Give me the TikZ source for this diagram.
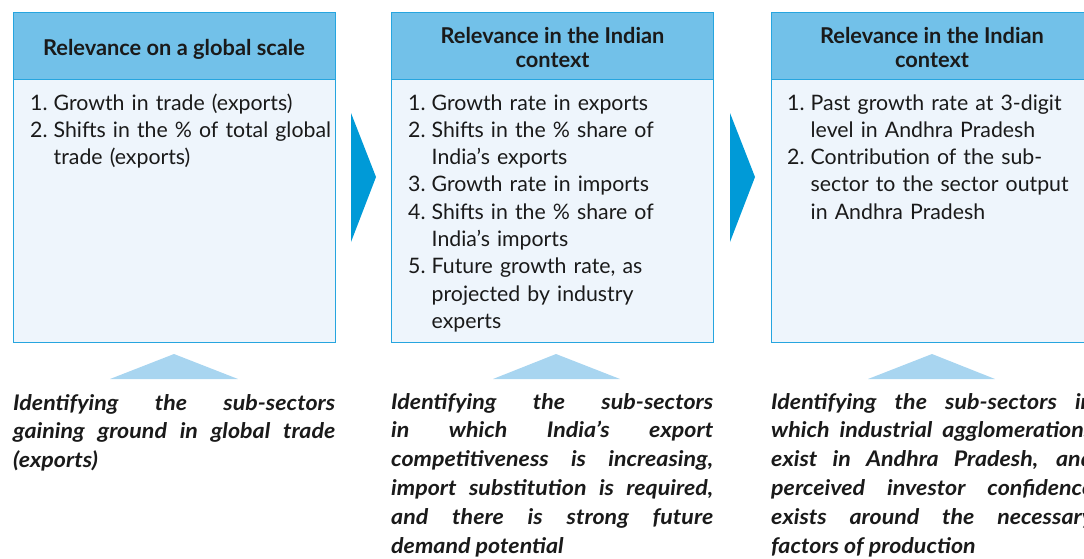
\documentclass[tikz,border=0pt]{standalone}
\usepackage{fontspec}
\setmainfont{Lato}
\newfontfamily\bottomfont[FakeStretch=1.08]{Lato}
\definecolor{hdrfill}{HTML}{72C1E9}
\definecolor{bodyfill}{HTML}{EEF5FC}
\definecolor{boxline}{HTML}{26A5DF}
\definecolor{arrowblue}{HTML}{009AD7}
\definecolor{lighttri}{HTML}{A8D5F0}
\definecolor{ink}{HTML}{1A1A1A}
\newcommand\listitem[2]{\hangindent=23.5pt\hangafter=1\noindent\makebox[23.5pt][l]{#1}#2\par}
\tikzset{
  bodybox/.style={draw=boxline, line width=1.3pt, fill=bodyfill, minimum width=322, minimum height=330, anchor=north west, inner sep=0pt},
  hdrbox/.style={draw=boxline, line width=1.3pt, fill=hdrfill, minimum width=322, minimum height=67, anchor=north west, inner sep=0pt},
  hdrtext/.style={anchor=base, inner sep=0pt, text=ink, align=center, font=\fontsize{21.8}{24}\selectfont\bfseries},
  listtext/.style={anchor=base west, inner sep=0pt, text=ink, text width=340pt, font=\fontsize{21.3}{27.3}\selectfont},
  bottomtext/.style={anchor=base west, inner sep=0pt, text=ink, text width=322pt, align=justify, font=\bottomfont\fontsize{21.5}{28.8}\selectfont\bfseries\itshape},
}
\begin{document}
\begin{tikzpicture}[x=1pt,y=-1pt]
\useasboundingbox (0,0) rectangle (1084,558);
\clip (0,0) rectangle (1084,558);
% boxes
\node[bodybox] (b1) at (13,12) {};
\node[hdrbox] (h1) at (13,12) {};
\node[bodybox] (b2) at (391,12) {};
\node[hdrbox] (h2) at (391,12) {};
\node[bodybox] (b3) at (771,12) {};
\node[hdrbox] (h3) at (771,12) {};
% headers
\node[hdrtext] (t1) at (174,55) {Relevance on a global scale};
\node[hdrtext] (t2) at (552.5,67) {Relevance in the Indian\\context};
\node[hdrtext] (t3) at (932,67) {Relevance in the Indian\\context};
% lists
\node[listtext] (l1) at (30,110) {%
\listitem{1.}{Growth in trade (exports)}%
\listitem{2.}{Shifts in the \% of total global\newline trade (exports)}};
\node[listtext] (l2) at (408,110) {%
\listitem{1.}{Growth rate in exports}%
\listitem{2.}{Shifts in the \% share of\newline India’s exports}%
\listitem{3.}{Growth rate in imports}%
\listitem{4.}{Shifts in the \% share of\newline India’s imports}%
\listitem{5.}{Future growth rate, as\newline projected by industry\newline experts}};
\node[listtext] (l3) at (787,110) {%
\listitem{1.}{Past growth rate at 3-digit\newline level in Andhra Pradesh}%
\listitem{2.}{Contribution of the sub-\newline sector to the sector output\newline in Andhra Pradesh}};
% arrows between boxes
\fill[arrowblue] (351,113) -- (376,177) -- (351,242) -- cycle;
\fill[arrowblue] (730,113) -- (755,177) -- (730,242) -- cycle;
% light triangles
\fill[lighttri] (110,379) -- (174,354) -- (238,379) -- cycle;
\fill[lighttri] (493,379) -- (556,354) -- (620,379) -- cycle;
\fill[lighttri] (868,379) -- (932,354) -- (995,379) -- cycle;
% bottom texts
\node[bottomtext] (d1) at (13,410) {\hyphenpenalty=10000\exhyphenpenalty=10000
Identifying the sub-sectors\linebreak gaining ground in global trade\linebreak (exports)};
\node[bottomtext] (d2) at (391,409) {\hyphenpenalty=10000\exhyphenpenalty=10000
Identifying the sub-sectors\linebreak in which India’s export\linebreak competitiveness is increasing,\linebreak import substitution is required,\linebreak and there is strong future\linebreak demand potential};
\node[bottomtext] (d3) at (771,409) {\hyphenpenalty=10000\exhyphenpenalty=10000
Identifying the sub-sectors in\linebreak which industrial agglomerations\linebreak exist in Andhra Pradesh, and\linebreak perceived investor confidence\linebreak exists around the necessary\linebreak factors of production};
\end{tikzpicture}
\end{document}
